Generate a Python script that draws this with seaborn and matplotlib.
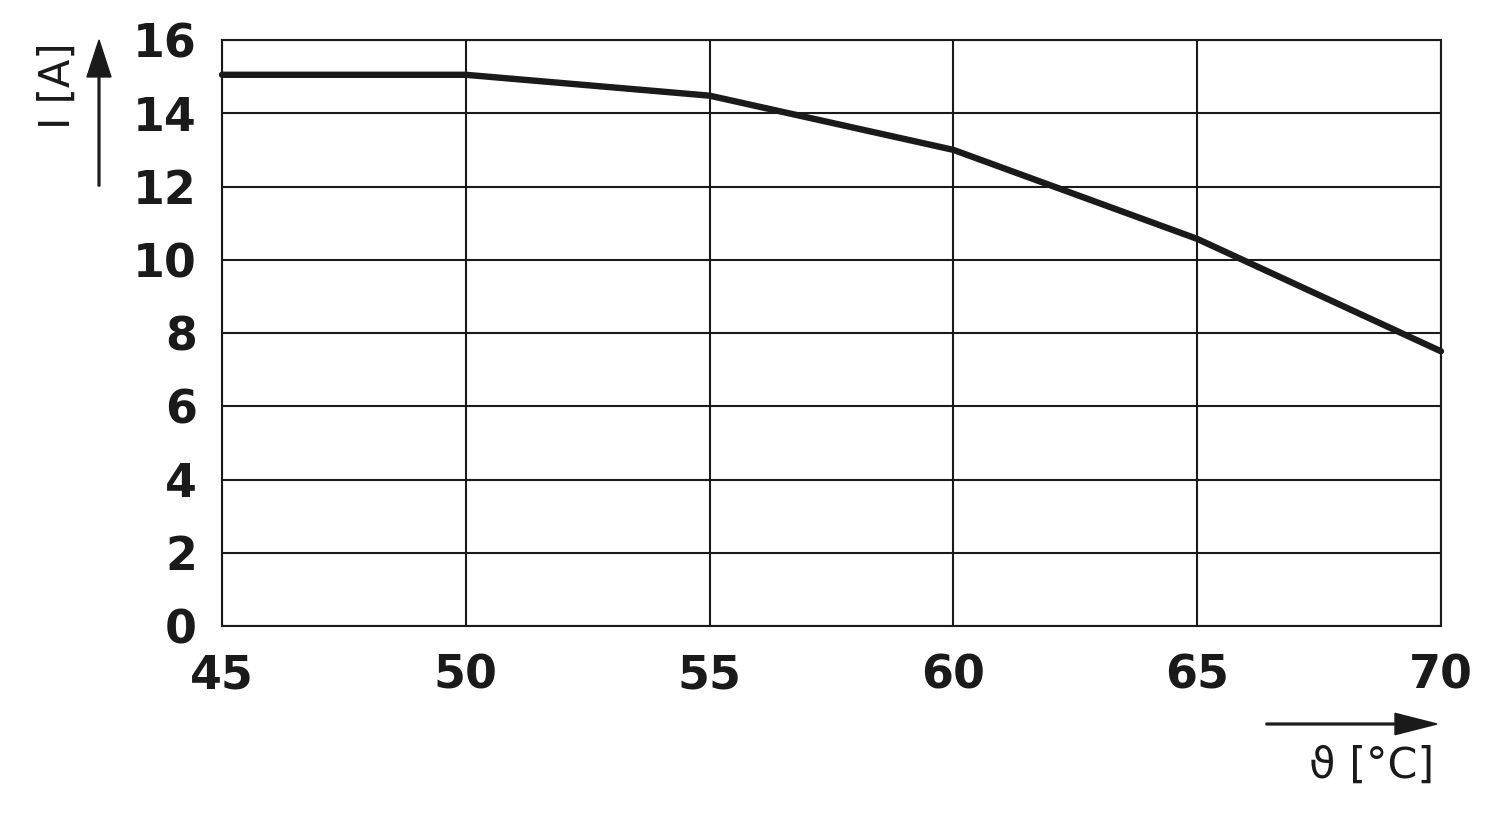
import numpy as np
import pandas as pd
import matplotlib
matplotlib.use('Agg')
import matplotlib.pyplot as plt
import seaborn as sns

# values
temperature = [45, 50, 55, 60, 65, 70]
current = [15.05, 15.05, 14.48, 13.0, 10.57, 7.5]
x_ticks = [45, 50, 55, 60, 65, 70]
y_ticks = [0, 2, 4, 6, 8, 10, 12, 14, 16]

df = pd.DataFrame({'temp': temperature, 'current': current})

sns.set_theme(style='white')
plt.rcParams['font.family'] = ['DejaVu Sans']
ink = '#1a1a1a'

fig = plt.figure(figsize=(15, 8.21), dpi=100)
ax = fig.add_axes([222 / 1500, 1 - 626 / 821, (1441 - 222) / 1500, (626 - 40) / 821])

sns.lineplot(data=df, x='temp', y='current', ax=ax, color=ink, linewidth=4.6,
             solid_capstyle='round', zorder=3, clip_on=False)

ax.set_xlim(45, 70)
ax.set_ylim(0, 16)
ax.set_xticks(x_ticks)
ax.set_yticks(y_ticks)
ax.grid(True, color=ink, linewidth=1.5)
for s in ax.spines.values():
    s.set_color(ink)
    s.set_linewidth(1.5)
ax.tick_params(length=0, labelsize=33, colors=ink)
ax.tick_params(axis='y', pad=18)
ax.tick_params(axis='x', pad=20)
for lab in ax.get_xticklabels() + ax.get_yticklabels():
    lab.set_fontweight('bold')
ax.set_xlabel('')
ax.set_ylabel('')

# axis name labels with arrows, placed in figure pixels
W, H = 1500, 821
fig.text(58 / W, 1 - 86 / H, 'I [A]', rotation=90, ha='center', va='center',
         fontsize=30, color=ink)
fig.text(1372 / W, 1 - 766 / H, 'ϑ [°C]', ha='center', va='center',
         fontsize=31, color=ink)
fig.patches.append(matplotlib.patches.FancyArrow(
    99 / W, 1 - 186 / H, 0, (186 - 40) / H, width=0.0012, head_width=0.016,
    head_length=0.045, length_includes_head=True, color=ink,
    transform=fig.transFigure, figure=fig))
fig.patches.append(matplotlib.patches.FancyArrow(
    1266 / W, 1 - 724 / H, (1437 - 1266) / W, 0, width=0.0022, head_width=0.026,
    head_length=0.028, length_includes_head=True, color=ink,
    transform=fig.transFigure, figure=fig))

fig.savefig('out.png', dpi=100, facecolor='white')
